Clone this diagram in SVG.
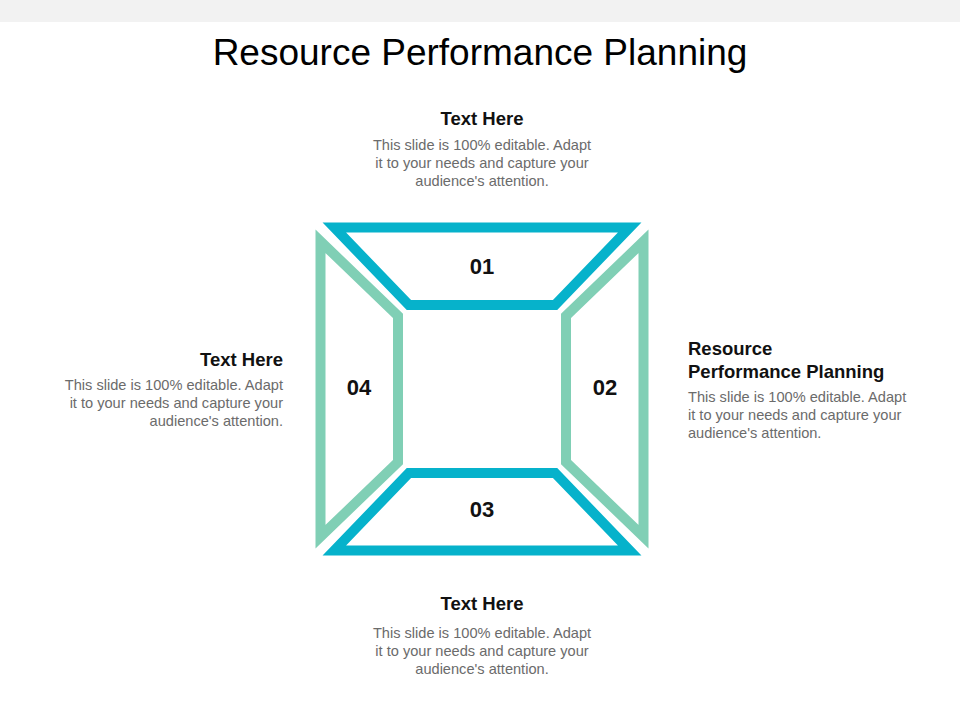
<svg xmlns="http://www.w3.org/2000/svg" width="960" height="720" viewBox="0 0 960 720">
<style>
.title{font-family:"Liberation Sans",Arial,sans-serif;font-size:37px;fill:#000;text-anchor:middle}
.head{font-family:"Liberation Sans",Arial,sans-serif;font-size:18.5px;font-weight:bold;fill:#111}
.body{font-family:"Liberation Sans",Arial,sans-serif;font-size:14.6px;fill:#6b6b6b}
.num{font-family:"Liberation Sans",Arial,sans-serif;font-size:22px;font-weight:bold;fill:#111;text-anchor:middle}
.blue{fill:none;stroke:#06b2cb;stroke-width:10;stroke-linejoin:miter;stroke-miterlimit:10}
.green{fill:none;stroke:#80cfb5;stroke-width:10;stroke-linejoin:miter;stroke-miterlimit:10}
</style>
<rect x="0" y="0" width="960" height="22" fill="#f2f2f2"/>
<text class="title" x="480" y="65">Resource Performance Planning</text>

<g id="node-01">
<polygon class="blue" points="334.3,227.5 629.7,227.5 555.1,305 408.9,305"/>
<text class="num" x="482" y="274">01</text>
</g>
<g id="node-02">
<polygon class="green" points="643.5,241.3 643.5,536.7 566,462.1 566,315.9"/>
<text class="num" x="605" y="395">02</text>
</g>
<g id="node-03">
<polygon class="blue" points="334.3,550.5 629.7,550.5 555.1,473 408.9,473"/>
<text class="num" x="482" y="517">03</text>
</g>
<g id="node-04">
<polygon class="green" points="320.5,241.3 320.5,536.7 398,462.1 398,315.9"/>
<text class="num" x="359" y="395">04</text>
</g>

<g id="text-top" text-anchor="middle">
<text class="head" x="482" y="125">Text Here</text>
<text class="body" x="482" y="150">This slide is 100% editable. Adapt</text>
<text class="body" x="482" y="168">it to your needs and capture your</text>
<text class="body" x="482" y="186">audience's attention.</text>
</g>
<g id="text-left" text-anchor="end">
<text class="head" x="283" y="366">Text Here</text>
<text class="body" x="283" y="390">This slide is 100% editable. Adapt</text>
<text class="body" x="283" y="408">it to your needs and capture your</text>
<text class="body" x="283" y="426">audience's attention.</text>
</g>
<g id="text-right" text-anchor="start">
<text class="head" x="688" y="355">Resource</text>
<text class="head" x="688" y="378">Performance Planning</text>
<text class="body" x="688" y="402">This slide is 100% editable. Adapt</text>
<text class="body" x="688" y="420">it to your needs and capture your</text>
<text class="body" x="688" y="438">audience's attention.</text>
</g>
<g id="text-bottom" text-anchor="middle">
<text class="head" x="482" y="610">Text Here</text>
<text class="body" x="482" y="638">This slide is 100% editable. Adapt</text>
<text class="body" x="482" y="656">it to your needs and capture your</text>
<text class="body" x="482" y="674">audience's attention.</text>
</g>
<g id="connectors"></g>
</svg>
